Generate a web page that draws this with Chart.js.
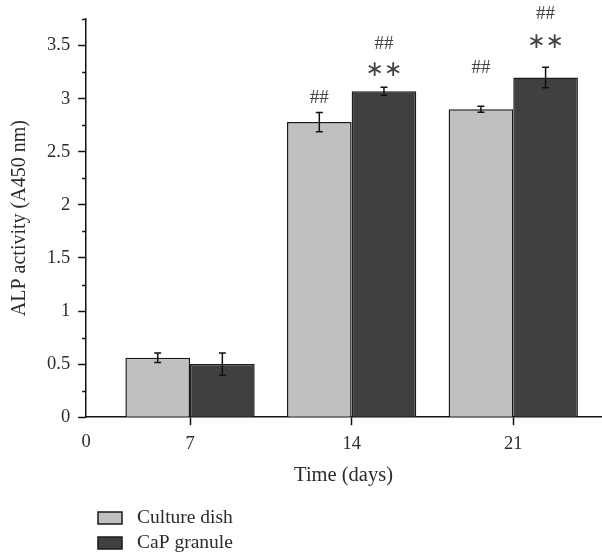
<!DOCTYPE html>
<html>
<head>
<meta charset="utf-8">
<script src="https://cdn.jsdelivr.net/npm/chart.js@4.4.0/dist/chart.umd.min.js"></script>
<style>
html, body { margin: 0; padding: 0; background: #fff; }
#wrap { width: 602px; height: 558px; }
</style>
</head>
<body>
<div id="wrap"><canvas id="mycanvas"></canvas></div>
<script>
// values
var days = [7, 14, 21];
var xOriginLabel = '0';
var seriesNames = ['Culture dish', 'CaP granule'];
var cultureDish = [0.56, 2.78, 2.90];
var cultureDishErr = [0.045, 0.09, 0.028];
var capGranule = [0.50, 3.07, 3.20];
var capGranuleErr = [0.105, 0.038, 0.096];

// significance marks and the level (A450) they sit at
var cultureDishMarks = [[], ['##'], ['##']];
var cultureDishMarkLevels = [[], [3.01], [3.29]];
var capGranuleMarks = [[], ['**', '##'], ['**', '##']];
var capGranuleMarkLevels = [[], [3.27, 3.52], [3.53, 3.80]];

var serif = "'Liberation Serif', 'DejaVu Serif', serif";
var textColor = '#2b2b2b';

function points(vals) {
	var out = [];
	for (var i in days) {
		out.push({ x: days[i], y: vals[i] });
	}
	return out;
}

var errorBars = {
	id: 'errorBars',
	afterDatasetsDraw: function(chart) {
		var ctx = chart.ctx;
		var ys = chart.scales.y;
		ctx.save();
		ctx.strokeStyle = '#111';
		ctx.lineWidth = 1.5;
		chart.data.datasets.forEach(function(ds, di) {
			var meta = chart.getDatasetMeta(di);
			meta.data.forEach(function(bar, i) {
				var v = ds.data[i].y, e = ds.errors[i];
				var top = ys.getPixelForValue(v + e);
				var bot = ys.getPixelForValue(v - e);
				ctx.beginPath();
				ctx.moveTo(bar.x, top); ctx.lineTo(bar.x, bot);
				ctx.moveTo(bar.x - 3.5, top); ctx.lineTo(bar.x + 3.5, top);
				ctx.moveTo(bar.x - 3.5, bot); ctx.lineTo(bar.x + 3.5, bot);
				ctx.stroke();
			});
		});
		ctx.restore();
	}
};

var extras = {
	id: 'extras',
	afterDraw: function(chart) {
		var ctx = chart.ctx;
		var ys = chart.scales.y;
		var xs = chart.scales.x;
		ctx.save();

		// significance marks
		ctx.fillStyle = '#444';
		ctx.textAlign = 'center';
		ctx.textBaseline = 'middle';
		chart.data.datasets.forEach(function(ds, di) {
			var meta = chart.getDatasetMeta(di);
			meta.data.forEach(function(bar, i) {
				var marks = ds.marks[i], levels = ds.markLevels[i];
				for (var k = 0; k < marks.length; k++) {
					if (marks[k] === '**') {
						ctx.font = "22px 'DejaVu Sans', sans-serif";
						ctx.fillText('\u2217\u2217', bar.x, ys.getPixelForValue(levels[k]));
					} else {
						ctx.font = '19px ' + serif;
						ctx.fillText(marks[k], bar.x, ys.getPixelForValue(levels[k]));
					}
				}
			});
		});

		// minor ticks on the y axis
		ctx.strokeStyle = '#111';
		ctx.lineWidth = 1.5;
		ys.ticks.forEach(function(t) {
			if (Math.round(t.value * 100) % 50 !== 0) {
				var py = Math.round(ys.getPixelForValue(t.value)) + 0.5;
				ctx.beginPath();
				ctx.moveTo(xs.left - 4, py);
				ctx.lineTo(xs.left, py);
				ctx.stroke();
			}
		});

		// origin label on the x axis
		ctx.fillStyle = textColor;
		ctx.font = '18.5px ' + serif;
		ctx.textAlign = 'center';
		ctx.textBaseline = 'middle';
		ctx.fillText(xOriginLabel, xs.left, 442);

		// legend, stacked under the plot
		ctx.font = '19.5px ' + serif;
		chart.data.datasets.forEach(function(ds, di) {
			var top = 512 + di * 25;
			ctx.fillStyle = ds.backgroundColor;
			ctx.fillRect(98, top, 24, 12);
			ctx.strokeStyle = '#1a1a1a';
			ctx.lineWidth = 1.5;
			ctx.strokeRect(98, top, 24, 12);
			ctx.fillStyle = textColor;
			ctx.textAlign = 'left';
			ctx.fillText(ds.label, 137, top + 6);
		});

		ctx.restore();
	}
};

var chartdata = {
	datasets: [
		{
			label: seriesNames[0],
			backgroundColor: '#c0c0c0',
			borderColor: '#1a1a1a',
			borderWidth: 1.5,
			data: points(cultureDish),
			errors: cultureDishErr,
			marks: cultureDishMarks,
			markLevels: cultureDishMarkLevels
		},
		{
			label: seriesNames[1],
			backgroundColor: '#404040',
			borderColor: '#1a1a1a',
			borderWidth: 1.5,
			data: points(capGranule),
			errors: capGranuleErr,
			marks: capGranuleMarks,
			markLevels: capGranuleMarkLevels
		}
	]
};

var ctx = document.getElementById('mycanvas');

var barGraph = new Chart(ctx, {
	type: 'bar',
	data: chartdata,
	options: {
		responsive: true,
		maintainAspectRatio: false,
		animation: false,
		categoryPercentage: 0.8,
		barPercentage: 1.0,
		layout: { padding: { left: 8, top: 19, right: 1, bottom: 70 } },
		plugins: {
			legend: { display: false },
			tooltip: { enabled: false }
		},
		scales: {
			x: {
				type: 'linear',
				min: 2.5,
				max: 24.8,
				offset: false,
				afterBuildTicks: function(scale) {
					scale.ticks = days.map(function(d) { return { value: d }; });
				},
				ticks: {
					color: textColor,
					font: { family: serif, size: 18.5 },
					padding: 8,
					callback: function(v) { return String(v); }
				},
				grid: {
					offset: false,
					drawOnChartArea: false,
					tickLength: 8,
					tickColor: '#111',
					tickWidth: 1.5
				},
				border: { color: '#111', width: 1.5 },
				title: {
					display: true,
					text: 'Time (days)',
					color: textColor,
					font: { family: serif, size: 20.5 },
					padding: { top: 0, bottom: 0 }
				}
			},
			y: {
				min: 0,
				max: 3.75,
				ticks: {
					stepSize: 0.25,
					color: textColor,
					font: { family: serif, size: 18.5 },
					padding: 8,
					callback: function(v) {
						return Math.round(v * 100) % 50 === 0 ? String(Math.round(v * 10) / 10) : '';
					}
				},
				grid: {
					drawOnChartArea: false,
					tickLength: 8,
					tickWidth: 1.5,
					tickColor: function(c) {
						return Math.round(c.tick.value * 100) % 50 === 0 ? '#111' : 'rgba(0,0,0,0)';
					}
				},
				border: { color: '#111', width: 1.5 },
				title: {
					display: true,
					text: 'ALP activity (A450 nm)',
					color: textColor,
					font: { family: serif, size: 20 },
					padding: { top: 0, bottom: 7 }
				}
			}
		}
	},
	plugins: [errorBars, extras]
});
</script>
</body>
</html>
